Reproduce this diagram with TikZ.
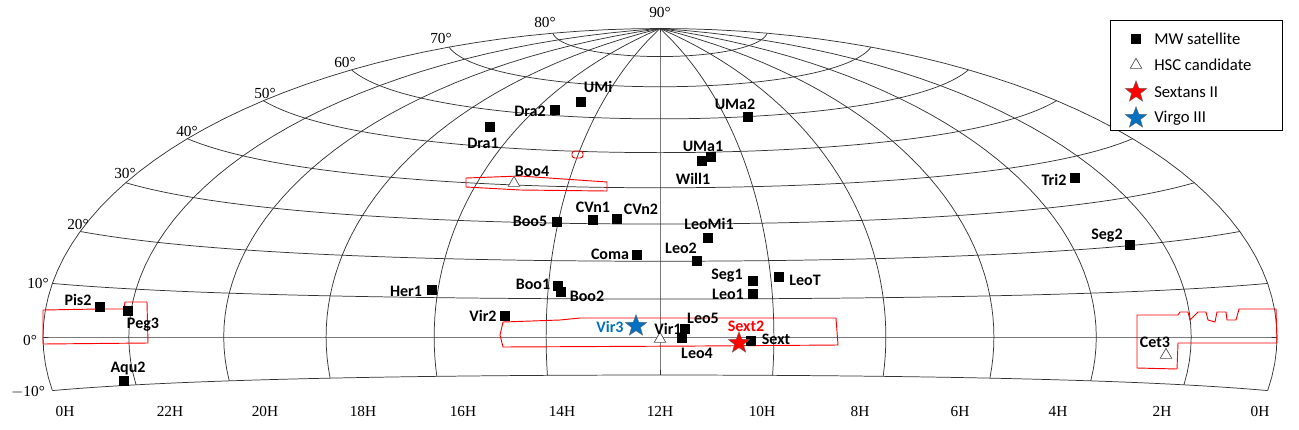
\documentclass[tikz,border=0pt]{standalone}
\usepackage{fontspec}
\setmainfont{Liberation Serif}
\newfontfamily\lab{Carlito}
\usetikzlibrary{shapes.geometric}
\begin{document}
\begin{tikzpicture}[x=0.75pt,y=-0.75pt,
  declare function={hs(\l,\p)=sqrt(1+cos(\p)*cos(\l/2));
    hx(\l,\p)=617*cos(\p)*sin(\l/2)/hs(\l,\p);
    hy(\l,\p)=-308.5*sin(\p)/hs(\l,\p);},
  grid/.style={black!80,line width=0.55pt},
  reg/.style={red,line width=0.7pt},
  sat/.style={fill=black,draw=none,minimum size=7.5pt,inner sep=0pt},
  cand/.style={draw=black!70,fill=white,isosceles triangle,isosceles triangle apex angle=60,shape border rotate=90,minimum size=7.5pt,inner sep=0pt,line width=0.5pt},
  starm/.style={star,star points=5,star point ratio=2.4,minimum size=17pt,inner sep=0pt,draw=black!60,line width=0.3pt},
  lb/.style={font=\lab\bfseries\fontsize{12}{14}\selectfont,inner sep=0pt},
  ax/.style={font=\fontsize{11.5}{13}\selectfont,inner sep=0pt}]
\useasboundingbox (0,0) rectangle (1299,429);
\begin{scope}[shift={(660,337)}]
\foreach \p in {-10,0,...,80}
  \draw[grid] plot[domain=-180:180,samples=91,variable=\l] ({hx(\l,\p)},{hy(\l,\p)});
\foreach \l in {-180,-150,...,180}
  \draw[grid] plot[domain=-10:90,samples=41,variable=\p] ({hx(\l,\p)},{hy(\l,\p)});
\end{scope}
% red regions
\draw[reg] (43,310)--(98,309)--(124,309)--(125,302)--(147,302)--(148,343)--(43,344)--cycle;
\draw[reg] (503,322)--(560,320)--(580,318)--(836,318)--(838,345)--(700,346)--(503,347)--(500,335)--cycle;
\draw[reg] (1137,315)--(1178,315)--(1180,312)--(1188,312)--(1190,320)--(1198,312)--(1206,312)--(1208,320)--(1215,322)--(1217,312)--(1226,312)--(1227,320)--(1236,320)--(1239,309)--(1276,309)--(1277,343)--(1178,343)--(1177,369)--(1137,368)--cycle;
\draw[reg] (466,178)--(520,176)--(607,182)--(607,191)--(520,190)--(466,187)--cycle;
\draw[reg,rounded corners=2pt] (572,151) rectangle (583,158);
% axis labels
\foreach \t/\x/\y in {10°/38/283,20°/78/224,30°/125/173,40°/187/131,50°/265/93,60°/345/62,70°/441/38,80°/545/22,90°/660/12,0°/30/340,$-$10°/28/392}
  \node[ax] at (\x,\y) {\t};
\foreach \t/\x in {0H/65,22H/170,20H/265,18H/363,16H/463,14H/562,12H/660,10H/762,8H/860,6H/960,4H/1058,2H/1162,0H/1260}
  \node[ax] at (\x,411) {\t};
% satellites
\foreach \n/\x/\y in {umi/581/102,dra2/555/110,dra1/490/127,uma2/748/117,will1/702/161,uma1/711/157,tri2/1075/178,boo5/557/222,cvn1/593/220,cvn2/617/219,leomi1/708/238,seg2/1130/245,coma/637/255,leo2/697/261,seg1/753/281,leot/779/277,leo1/753/294,boo1/558/286,boo2/561/292,her1/432/290,pis2/100/307,peg3/128/311,vir2/505/316,leo5/685/329,leo4/682/338,sext/751/341,aqu2/124/381}
  \node[sat] (\n) at (\x,\y) {};
\node[cand] (boo4) at (514,183) {};
\node[cand] (vir1c) at (660,339) {};
\node[cand] (cet3) at (1166,355) {};
\node[starm,fill=red] (sext2) at (739,343) {};
\node[starm,fill={rgb,255:red,0;green,112;blue,192}] (vir3) at (636,326) {};
% labels
\foreach \t/\x/\y in {UMi/598/87,Dra2/530/111,Dra1/483/143,UMa2/735/104,UMa1/703/146,Will1/693/179,Boo4/532/171,Tri2/1054/180,Boo5/530/221,CVn1/593/207,CVn2/641/209,LeoMi1/709/224,Seg2/1107/236,Coma/610/254,Leo2/681/248,Seg1/727/276,LeoT/805/280,Leo1/728/294,Boo1/533/284,Boo2/587/296,Her1/406/291,Pis2/78/300,Peg3/143/325,Vir2/483/316,Vir1/668/329,Leo5/703/318,Leo4/697/353,Sext/776/339,Cet3/1155/342,Aqu2/128/369}
  \node[lb] at (\x,\y) {\t};
\node[lb,text={rgb,255:red,0;green,112;blue,192}] at (610,327) {Vir3};
\node[lb,text=red] at (746,326) {Sext2};
% legend
\draw[black,line width=0.6pt,fill=white] (1110,20) rectangle (1282,130);
\node[sat] (l1) at (1136,39) {};
\node[cand] (l2) at (1136,65) {};
\node[starm,fill=red] (l3) at (1136,92) {};
\node[starm,fill={rgb,255:red,0;green,112;blue,192}] (l4) at (1136,118) {};
\foreach \t/\y in {MW satellite/39,HSC candidate/65,Sextans II/92,Virgo III/118}
  \node[font=\lab\fontsize{12.5}{14}\selectfont,anchor=west,inner sep=0pt] at (1154,\y) {\t};
\end{tikzpicture}
\end{document}
